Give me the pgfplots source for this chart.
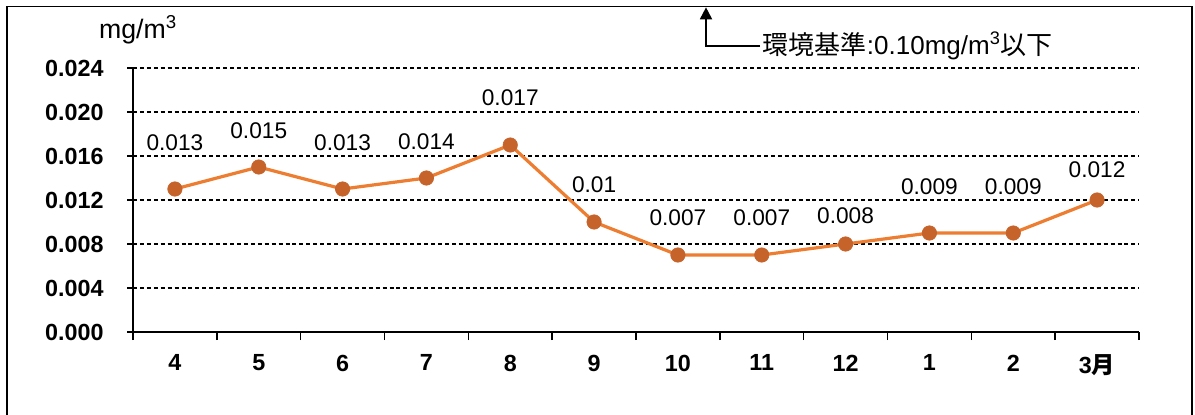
\documentclass[border=0pt]{standalone}
\usepackage{pgfplots}
\pgfplotsset{compat=1.18}
\usepackage{pgfplotstable}
\usepackage{fontspec}
\setmainfont{Liberation Sans}
\newfontfamily\jp{Noto Sans CJK JP}
\usetikzlibrary{arrows.meta}

\definecolor{lineorange}{HTML}{ED7D31}
\definecolor{markbrown}{HTML}{C5632A}

% month index, concentration (mg/m3), printed label, label offset (pt)
\pgfplotstableread{
x  y      lab    dy
1  0.013  0.013  34.5
2  0.015  0.015  27
3  0.013  0.013  34.5
4  0.014  0.014  27
5  0.017  0.017  35.25
6  0.010  0.01   27.75
7  0.007  0.007  27.75
8  0.007  0.007  27.75
9  0.008  0.008  21
10 0.009  0.009  34.5
11 0.009  0.009  34.5
12 0.012  0.012  22.5
}\monthly

\begin{document}
\begin{tikzpicture}
\useasboundingbox (0,0) rectangle (896.25pt,-310.5pt);
% outer frame (open at the bottom)
\draw[line width=1.2pt] (5.25pt,-320pt) -- (5.25pt,-4.8pt) -- (894pt,-4.8pt) -- (894pt,-320pt);

\begin{axis}[
  at={(99.75pt,-249pt)}, anchor=south west,
  scale only axis, width=754.5pt, height=198pt,
  xmin=0.5, xmax=12.5, ymin=0, ymax=0.024,
  scaled y ticks=false,
  axis x line=bottom, axis y line=left,
  axis line style={line width=1.1pt, -},
  xtick={1,...,12},
  xticklabels={4,5,6,7,8,9,10,11,12,1,2,{3{\jp\bfseries 月}}},
  major x tick style={draw=none},
  minor xtick={0.5,1.5,...,12.5},
  minor x tick style={line width=1.1pt, black},
  minor tick length=6pt,
  xtick pos=bottom,
  ytick={0,0.004,...,0.024},
  yticklabels={0.000,0.004,0.008,0.012,0.016,0.020,0.024},
  major y tick style={line width=1.1pt, black},
  major tick length=4.5pt,
  ytick pos=left,
  tick align=outside,
  ymajorgrids,
  major grid style={black, line width=0.8pt, dash pattern=on 3pt off 2.2pt},
  ticklabel style={font=\bfseries\fontsize{17.5}{17.5}\selectfont},
  yticklabel style={xshift=-14pt},
  xticklabel style={yshift=-9pt},
  clip=false,
]
\addplot[color=lineorange, line width=2.4pt,
  mark=*, mark size=5.4pt,
  mark options={fill=markbrown, draw=markbrown, line width=0.5pt},
  nodes near coords,
  point meta=explicit symbolic,
  visualization depends on={\thisrow{dy} \as \dy},
  every node near coord/.append style={anchor=center, yshift=\dy pt,
    font=\fontsize{17}{17}\selectfont, text=black},
] table[x=x, y=y, meta=lab] {\monthly};
\end{axis}

% unit label
\node[font=\fontsize{20}{20}\selectfont] at (103.5pt,-22.5pt) {mg/m\textsuperscript{3}};

% standard marker
\draw[line width=1.4pt, -{Triangle[length=9pt,width=9pt]}]
  (570pt,-34.5pt) -- (529.5pt,-34.5pt) -- (529.5pt,-5.5pt);
\node[anchor=west, inner sep=0pt, font=\fontsize{19.5}{19.5}\selectfont] at (572pt,-34.5pt)
  {{\jp 環境基準}:0.10mg/m\textsuperscript{3}{\jp 以下}};
\end{tikzpicture}
\end{document}
